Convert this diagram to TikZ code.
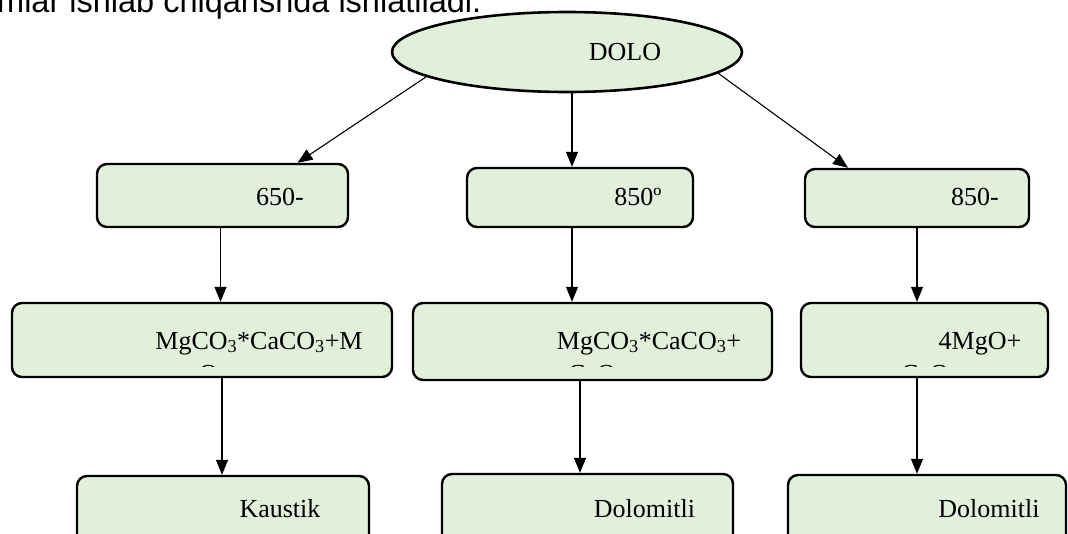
\documentclass[tikz,border=0pt]{standalone}
\usepackage{fontspec}
\setmainfont{Liberation Serif}
\newfontfamily\bodyfont{Liberation Sans}
\usetikzlibrary{shapes.geometric,arrows.meta}
\definecolor{boxgreen}{HTML}{E2EFDA}

\tikzset{
  stagebox/.style={draw, line width=2.4pt, rounded corners=10pt, fill=boxgreen, inner sep=0pt},
  flow/.style={-{Triangle[length=15pt,width=12pt]}, line width=1.1pt},
  boxtext/.style={anchor=base, inner sep=0pt, font=\fontsize{26}{30}\selectfont}
}

\begin{document}
\begin{tikzpicture}[x=1pt, y=-1pt]

    \useasboundingbox (0, 0) rectangle (1068, 533);

    % Line of text above the chart
    \node[anchor=base west, inner sep=0pt, font=\bodyfont\fontsize{32.5}{38}\selectfont] (body) at (-3, 12) {mlar ishlab chiqarishda ishlatiladi.};

    % Top ellipse
    \node[draw, ellipse, line width=2.6pt, fill=boxgreen, minimum width=350pt, minimum height=80pt] (dolo) at (567, 52) {};
    \node[boxtext] (dolotext) at (625, 60) {DOLO};

    % Temperature row
    \node[stagebox, minimum width=251pt, minimum height=63pt] (b1) at (222.5, 195.5) {};
    \node[stagebox, minimum width=226pt, minimum height=59pt] (b2) at (580, 197.5) {};
    \node[stagebox, minimum width=224pt, minimum height=58pt] (b3) at (917, 198) {};
    \node[boxtext] (b1text) at (280, 205) {650-};
    \node[boxtext] (b2text) at (638, 205) {850º};
    \node[boxtext] (b3text) at (975, 205) {850-};

    % Product row (second line cut off by the box)
    \node[stagebox, minimum width=380pt, minimum height=74pt] (c1) at (202, 340) {};
    \node[stagebox, minimum width=359pt, minimum height=77pt] (c2) at (592.5, 341.5) {};
    \node[stagebox, minimum width=247pt, minimum height=74pt] (c3) at (924.5, 340) {};
    \node[boxtext] (c1text) at (259, 349) {MgCO\textsubscript{3}*CaCO\textsubscript{3}+M};
    \node[boxtext] (c2text) at (649, 349) {MgCO\textsubscript{3}*CaCO\textsubscript{3}+};
    \node[boxtext] (c3text) at (980, 349) {4MgO+};
    \begin{scope}
        \clip (0, 300) rectangle (1068, 366);
        \node[boxtext] (c1more) at (202, 382) {gO};
        \node[boxtext] (c2more) at (592, 382) {CaO};
        \node[boxtext] (c3more) at (925, 382) {CaO};
    \end{scope}

    % Bottom row
    \node[stagebox, minimum width=292pt, minimum height=100pt] (d1) at (223, 526) {};
    \node[stagebox, minimum width=291pt, minimum height=100pt] (d2) at (587.5, 524) {};
    \node[stagebox, minimum width=278pt, minimum height=100pt] (d3) at (927, 525) {};
    \node[boxtext] (d1text) at (280, 517) {Kaustik};
    \node[boxtext] (d2text) at (644.5, 517) {Dolomitli};
    \node[boxtext] (d3text) at (989, 517) {Dolomitli};

    % Arrows from the ellipse
    \draw[flow] (dolo.190) -- ([xshift=75pt]b1.north);
    \draw[flow] ([xshift=-8pt]b2.north |- dolo.south) -- ([xshift=-8pt]b2.north);
    \draw[flow] (dolo.-8) -- ([xshift=-69pt]b3.north);

    % Arrows down the columns
    \draw[flow] ([xshift=-2pt]b1.south) -- ([xshift=-2pt]b1.south |- c1.north);
    \draw[flow] ([xshift=-8pt]b2.south) -- ([xshift=-8pt]b2.south |- c2.north);
    \draw[flow] (b3.south) -- (b3.south |- c3.north);
    \draw[flow] ([xshift=20pt]c1.south) -- ([xshift=20pt]c1.south |- d1.north);
    \draw[flow] ([xshift=-12.5pt]c2.south) -- ([xshift=-12.5pt]c2.south |- d2.north);
    \draw[flow] ([xshift=-7.5pt]c3.south) -- ([xshift=-7.5pt]c3.south |- d3.north);

\end{tikzpicture}
\end{document}
